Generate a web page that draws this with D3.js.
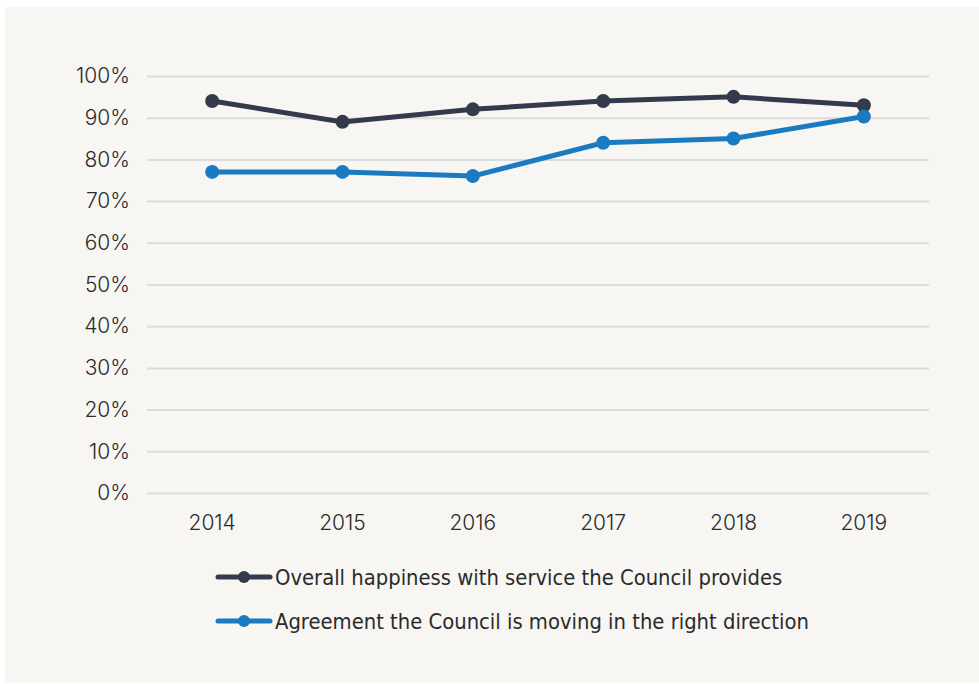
<!DOCTYPE html>
<html>
<head>
<meta charset="utf-8">
<script src="https://cdn.jsdelivr.net/npm/d3@7"></script>
<style>
  body { margin: 0; background: #ffffff; }
</style>
</head>
<body>
<div id="chart"></div>
<script>
// Chart data
const years = ["2014", "2015", "2016", "2017", "2018", "2019"];
const happiness = [94, 89, 92, 94, 95, 93];
const direction = [77, 77, 76, 84, 85, 90.3];
const yTicks = [0, 10, 20, 30, 40, 50, 60, 70, 80, 90, 100];
const seriesNames = [
  "Overall happiness with service the Council provides",
  "Agreement the Council is moving in the right direction"
];
const seriesColors = ["#323a4b", "#1a7bc1"];

lineChart();

function lineChart() {
  let W = 979, H = 684;
  let margin = { top: 76, right: 50, bottom: 191, left: 147 },
    width = W - margin.left - margin.right,
    height = H - margin.top - margin.bottom;

  let root = d3
    .select("#chart")
    .append("svg")
    .attr("width", W)
    .attr("height", H);

  // Light panel behind the chart
  root
    .append("rect")
    .attr("x", 5)
    .attr("y", 7)
    .attr("width", W - 5)
    .attr("height", H - 8)
    .attr("fill", "#f7f6f2");

  let svg = root
    .append("g")
    .attr("transform", "translate(" + margin.left + "," + margin.top + ")");

  let x = d3.scaleBand().domain(years).range([0, width]);
  let y = d3.scaleLinear().domain([0, 100]).range([height, 0]);

  let tickFont = "Inter, 'Open Sans', sans-serif";

  // Gridlines + y labels
  let yAxis = svg
    .append("g")
    .call(
      d3.axisLeft(y)
        .tickValues(yTicks)
        .tickSize(-width)
        .tickPadding(17)
        .tickFormat(d => d + "%")
    );
  yAxis.select(".domain").remove();
  yAxis.selectAll("line").attr("stroke", "#dcdcdc").attr("stroke-width", 2);
  yAxis
    .selectAll("text")
    .attr("fill", "#2b2b2b")
    .style("font-family", tickFont)
    .style("font-weight", 300)
    .style("font-size", "21px");

  // X labels
  let xAxis = svg
    .append("g")
    .attr("transform", "translate(0," + height + ")")
    .call(d3.axisBottom(x).tickSize(0).tickPadding(22));
  xAxis.select(".domain").remove();
  xAxis
    .selectAll("text")
    .attr("fill", "#2b2b2b")
    .style("font-family", tickFont)
    .style("font-weight", 300)
    .style("font-size", "21px");

  let series = [happiness, direction];
  let line = d3
    .line()
    .x((d, i) => x(years[i]) + x.bandwidth() / 2)
    .y(d => y(d));

  series.forEach(function (vals, s) {
    svg
      .append("path")
      .datum(vals)
      .attr("fill", "none")
      .attr("stroke", seriesColors[s])
      .attr("stroke-width", 5)
      .attr("d", line);

    svg
      .selectAll(".pt" + s)
      .data(vals)
      .enter()
      .append("circle")
      .attr("cx", (d, i) => x(years[i]) + x.bandwidth() / 2)
      .attr("cy", d => y(d))
      .attr("r", 7)
      .attr("fill", seriesColors[s]);
  });

  // Legend
  let legend = root.append("g").attr("transform", "translate(216,577)");
  seriesNames.forEach(function (name, s) {
    let g = legend.append("g").attr("transform", "translate(0," + s * 44 + ")");
    g.append("line")
      .attr("x1", 2)
      .attr("x2", 54)
      .attr("stroke", seriesColors[s])
      .attr("stroke-width", 5)
      .attr("stroke-linecap", "round");
    g.append("circle").attr("cx", 28).attr("r", 6).attr("fill", seriesColors[s]);
    g.append("text")
      .attr("x", 59)
      .attr("dy", "0.35em")
      .attr("fill", "#2b2b2b")
      .style("font-family", "'DejaVu Sans Condensed', 'DejaVu Sans', sans-serif")
      .style("font-stretch", "condensed")
      .style("font-size", "21.8px")
      .text(name);
  });
}
</script>
</body>
</html>
